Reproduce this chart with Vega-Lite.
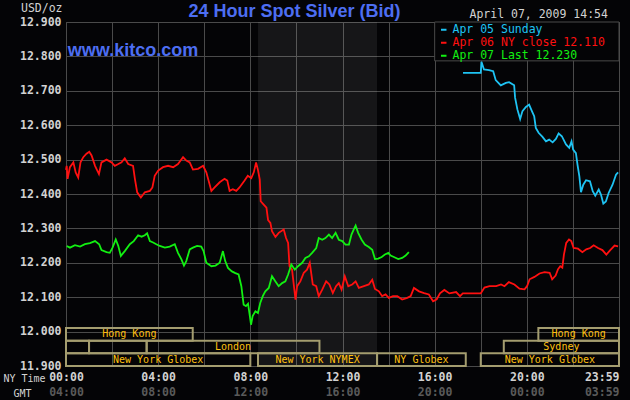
{
  "$schema": "https://vega.github.io/schema/vega-lite/v6.json",
  "width": 553,
  "height": 344,
  "autosize": {"type": "none"},
  "padding": {"left": 66, "top": 22, "right": 11, "bottom": 34},
  "background": "#040406",
  "title": {
    "text": "24 Hour Spot Silver (Bid)",
    "anchor": "middle",
    "dx": -48,
    "offset": -19,
    "font": "Liberation Sans",
    "fontSize": 18,
    "fontWeight": "bold",
    "color": "#4d6ef2"
  },
  "config": {
    "view": {"stroke": "#4a4a4a", "strokeWidth": 1},
    "axis": {
      "labelFont": "DejaVu Sans Mono",
      "labelFontSize": 11.5,
      "labelFontWeight": "bold",
      "labelColor": "#d2d2d2",
      "labelOverlap": false,
      "titleFont": "DejaVu Sans Mono",
      "titleFontSize": 11.5,
      "titleFontWeight": "normal",
      "titleColor": "#d2d2d2",
      "gridColor": "#4a4a4a",
      "gridOpacity": 1,
      "gridWidth": 1,
      "domain": false,
      "ticks": false
    }
  },
  "datasets": {
    "price": [
      {"d": "05", "h": 17.23, "v": 12.752}, {"d": "05", "h": 18.0, "v": 12.752}, {"d": "05", "h": 18.03, "v": 12.784},
      {"d": "05", "h": 18.14, "v": 12.762}, {"d": "05", "h": 18.36, "v": 12.76}, {"d": "05", "h": 18.54, "v": 12.757},
      {"d": "05", "h": 18.65, "v": 12.731}, {"d": "05", "h": 18.87, "v": 12.716}, {"d": "05", "h": 19.09, "v": 12.723},
      {"d": "05", "h": 19.23, "v": 12.725}, {"d": "05", "h": 19.45, "v": 12.716}, {"d": "05", "h": 19.49, "v": 12.68},
      {"d": "05", "h": 19.59, "v": 12.646}, {"d": "05", "h": 19.71, "v": 12.618}, {"d": "05", "h": 19.81, "v": 12.641},
      {"d": "05", "h": 19.96, "v": 12.653}, {"d": "05", "h": 20.1, "v": 12.66}, {"d": "05", "h": 20.22, "v": 12.641},
      {"d": "05", "h": 20.32, "v": 12.626}, {"d": "05", "h": 20.39, "v": 12.592}, {"d": "05", "h": 20.51, "v": 12.578},
      {"d": "05", "h": 20.68, "v": 12.566}, {"d": "05", "h": 20.83, "v": 12.553}, {"d": "05", "h": 20.97, "v": 12.558},
      {"d": "05", "h": 21.12, "v": 12.55}, {"d": "05", "h": 21.26, "v": 12.56}, {"d": "05", "h": 21.38, "v": 12.576},
      {"d": "05", "h": 21.52, "v": 12.568}, {"d": "05", "h": 21.7, "v": 12.544}, {"d": "05", "h": 21.84, "v": 12.534},
      {"d": "05", "h": 21.94, "v": 12.553}, {"d": "05", "h": 22.01, "v": 12.529}, {"d": "05", "h": 22.13, "v": 12.519},
      {"d": "05", "h": 22.2, "v": 12.485}, {"d": "05", "h": 22.28, "v": 12.451}, {"d": "05", "h": 22.35, "v": 12.405},
      {"d": "05", "h": 22.45, "v": 12.427}, {"d": "05", "h": 22.57, "v": 12.44}, {"d": "05", "h": 22.74, "v": 12.437},
      {"d": "05", "h": 22.86, "v": 12.408}, {"d": "05", "h": 22.97, "v": 12.395}, {"d": "05", "h": 23.12, "v": 12.413},
      {"d": "05", "h": 23.22, "v": 12.398}, {"d": "05", "h": 23.32, "v": 12.372}, {"d": "05", "h": 23.43, "v": 12.378},
      {"d": "05", "h": 23.55, "v": 12.403}, {"d": "05", "h": 23.72, "v": 12.427}, {"d": "05", "h": 23.87, "v": 12.456},
      {"d": "05", "h": 23.96, "v": 12.463},

      {"d": "06", "h": 0.0, "v": 12.47}, {"d": "06", "h": 0.03, "v": 12.482}, {"d": "06", "h": 0.07, "v": 12.444},
      {"d": "06", "h": 0.17, "v": 12.478}, {"d": "06", "h": 0.32, "v": 12.492}, {"d": "06", "h": 0.42, "v": 12.463},
      {"d": "06", "h": 0.53, "v": 12.448}, {"d": "06", "h": 0.63, "v": 12.492}, {"d": "06", "h": 0.75, "v": 12.507},
      {"d": "06", "h": 0.89, "v": 12.517}, {"d": "06", "h": 1.01, "v": 12.523}, {"d": "06", "h": 1.11, "v": 12.512},
      {"d": "06", "h": 1.26, "v": 12.482}, {"d": "06", "h": 1.43, "v": 12.458}, {"d": "06", "h": 1.54, "v": 12.492},
      {"d": "06", "h": 1.76, "v": 12.5}, {"d": "06", "h": 1.98, "v": 12.492}, {"d": "06", "h": 2.12, "v": 12.482},
      {"d": "06", "h": 2.27, "v": 12.487}, {"d": "06", "h": 2.41, "v": 12.492}, {"d": "06", "h": 2.55, "v": 12.504},
      {"d": "06", "h": 2.7, "v": 12.487}, {"d": "06", "h": 2.91, "v": 12.482}, {"d": "06", "h": 2.99, "v": 12.444},
      {"d": "06", "h": 3.09, "v": 12.405}, {"d": "06", "h": 3.25, "v": 12.39}, {"d": "06", "h": 3.42, "v": 12.405},
      {"d": "06", "h": 3.64, "v": 12.409}, {"d": "06", "h": 3.75, "v": 12.419}, {"d": "06", "h": 3.85, "v": 12.453},
      {"d": "06", "h": 4.0, "v": 12.468}, {"d": "06", "h": 4.21, "v": 12.478}, {"d": "06", "h": 4.43, "v": 12.482},
      {"d": "06", "h": 4.65, "v": 12.478}, {"d": "06", "h": 4.86, "v": 12.487}, {"d": "06", "h": 5.08, "v": 12.507},
      {"d": "06", "h": 5.22, "v": 12.497}, {"d": "06", "h": 5.37, "v": 12.492}, {"d": "06", "h": 5.51, "v": 12.471},
      {"d": "06", "h": 5.73, "v": 12.473}, {"d": "06", "h": 5.95, "v": 12.482}, {"d": "06", "h": 6.09, "v": 12.463},
      {"d": "06", "h": 6.31, "v": 12.409}, {"d": "06", "h": 6.45, "v": 12.419}, {"d": "06", "h": 6.67, "v": 12.434},
      {"d": "06", "h": 6.88, "v": 12.444}, {"d": "06", "h": 7.0, "v": 12.439}, {"d": "06", "h": 7.1, "v": 12.409},
      {"d": "06", "h": 7.24, "v": 12.414}, {"d": "06", "h": 7.39, "v": 12.409}, {"d": "06", "h": 7.53, "v": 12.419},
      {"d": "06", "h": 7.75, "v": 12.439}, {"d": "06", "h": 7.89, "v": 12.453}, {"d": "06", "h": 8.04, "v": 12.446},
      {"d": "06", "h": 8.15, "v": 12.463}, {"d": "06", "h": 8.25, "v": 12.492}, {"d": "06", "h": 8.33, "v": 12.47},
      {"d": "06", "h": 8.41, "v": 12.442}, {"d": "06", "h": 8.45, "v": 12.379}, {"d": "06", "h": 8.58, "v": 12.369},
      {"d": "06", "h": 8.7, "v": 12.36}, {"d": "06", "h": 8.77, "v": 12.324}, {"d": "06", "h": 8.87, "v": 12.316},
      {"d": "06", "h": 8.94, "v": 12.292}, {"d": "06", "h": 9.09, "v": 12.275}, {"d": "06", "h": 9.23, "v": 12.287},
      {"d": "06", "h": 9.45, "v": 12.297}, {"d": "06", "h": 9.55, "v": 12.272}, {"d": "06", "h": 9.64, "v": 12.258},
      {"d": "06", "h": 9.7, "v": 12.19}, {"d": "06", "h": 9.81, "v": 12.18}, {"d": "06", "h": 9.96, "v": 12.093},
      {"d": "06", "h": 10.03, "v": 12.132}, {"d": "06", "h": 10.17, "v": 12.146}, {"d": "06", "h": 10.32, "v": 12.171},
      {"d": "06", "h": 10.46, "v": 12.18}, {"d": "06", "h": 10.58, "v": 12.2}, {"d": "06", "h": 10.71, "v": 12.137},
      {"d": "06", "h": 10.86, "v": 12.132}, {"d": "06", "h": 10.97, "v": 12.103}, {"d": "06", "h": 11.12, "v": 12.122},
      {"d": "06", "h": 11.29, "v": 12.146}, {"d": "06", "h": 11.43, "v": 12.137}, {"d": "06", "h": 11.58, "v": 12.112},
      {"d": "06", "h": 11.72, "v": 12.132}, {"d": "06", "h": 11.84, "v": 12.141}, {"d": "06", "h": 11.96, "v": 12.122},
      {"d": "06", "h": 12.1, "v": 12.161}, {"d": "06", "h": 12.25, "v": 12.132}, {"d": "06", "h": 12.42, "v": 12.137},
      {"d": "06", "h": 12.57, "v": 12.146}, {"d": "06", "h": 12.71, "v": 12.127}, {"d": "06", "h": 12.93, "v": 12.132},
      {"d": "06", "h": 13.14, "v": 12.137}, {"d": "06", "h": 13.29, "v": 12.151}, {"d": "06", "h": 13.41, "v": 12.124},
      {"d": "06", "h": 13.58, "v": 12.117}, {"d": "06", "h": 13.72, "v": 12.103}, {"d": "06", "h": 13.87, "v": 12.108},
      {"d": "06", "h": 14.01, "v": 12.098}, {"d": "06", "h": 14.19, "v": 12.103}, {"d": "06", "h": 14.38, "v": 12.103},
      {"d": "06", "h": 14.59, "v": 12.093}, {"d": "06", "h": 14.81, "v": 12.098}, {"d": "06", "h": 14.96, "v": 12.103},
      {"d": "06", "h": 15.1, "v": 12.127}, {"d": "06", "h": 15.32, "v": 12.117}, {"d": "06", "h": 15.54, "v": 12.112},
      {"d": "06", "h": 15.75, "v": 12.108}, {"d": "06", "h": 15.93, "v": 12.088}, {"d": "06", "h": 16.09, "v": 12.094},
      {"d": "06", "h": 16.23, "v": 12.111}, {"d": "06", "h": 16.42, "v": 12.121}, {"d": "06", "h": 16.64, "v": 12.111},
      {"d": "06", "h": 16.93, "v": 12.115}, {"d": "06", "h": 17.1, "v": 12.103}, {"d": "06", "h": 17.22, "v": 12.111},
      {"d": "06", "h": 17.65, "v": 12.111}, {"d": "06", "h": 18.0, "v": 12.111}, {"d": "06", "h": 18.16, "v": 12.128},
      {"d": "06", "h": 18.38, "v": 12.132}, {"d": "06", "h": 18.67, "v": 12.132}, {"d": "06", "h": 18.88, "v": 12.137},
      {"d": "06", "h": 19.03, "v": 12.132}, {"d": "06", "h": 19.22, "v": 12.144}, {"d": "06", "h": 19.46, "v": 12.137},
      {"d": "06", "h": 19.68, "v": 12.125}, {"d": "06", "h": 19.9, "v": 12.123}, {"d": "06", "h": 20.01, "v": 12.132},
      {"d": "06", "h": 20.12, "v": 12.152}, {"d": "06", "h": 20.33, "v": 12.159}, {"d": "06", "h": 20.55, "v": 12.169},
      {"d": "06", "h": 20.77, "v": 12.173}, {"d": "06", "h": 20.99, "v": 12.171}, {"d": "06", "h": 21.1, "v": 12.152},
      {"d": "06", "h": 21.25, "v": 12.163}, {"d": "06", "h": 21.35, "v": 12.181}, {"d": "06", "h": 21.45, "v": 12.19},
      {"d": "06", "h": 21.54, "v": 12.186}, {"d": "06", "h": 21.61, "v": 12.224}, {"d": "06", "h": 21.71, "v": 12.258},
      {"d": "06", "h": 21.83, "v": 12.268}, {"d": "06", "h": 21.93, "v": 12.263}, {"d": "06", "h": 22.03, "v": 12.243},
      {"d": "06", "h": 22.22, "v": 12.241}, {"d": "06", "h": 22.41, "v": 12.231}, {"d": "06", "h": 22.58, "v": 12.239},
      {"d": "06", "h": 22.75, "v": 12.243}, {"d": "06", "h": 22.9, "v": 12.251}, {"d": "06", "h": 23.09, "v": 12.243},
      {"d": "06", "h": 23.28, "v": 12.237}, {"d": "06", "h": 23.45, "v": 12.224}, {"d": "06", "h": 23.62, "v": 12.237},
      {"d": "06", "h": 23.81, "v": 12.25}, {"d": "06", "h": 23.96, "v": 12.248},

      {"d": "07", "h": 0.03, "v": 12.249}, {"d": "07", "h": 0.17, "v": 12.244}, {"d": "07", "h": 0.39, "v": 12.251},
      {"d": "07", "h": 0.61, "v": 12.247}, {"d": "07", "h": 0.82, "v": 12.254}, {"d": "07", "h": 1.04, "v": 12.257},
      {"d": "07", "h": 1.26, "v": 12.263}, {"d": "07", "h": 1.44, "v": 12.254}, {"d": "07", "h": 1.54, "v": 12.237},
      {"d": "07", "h": 1.76, "v": 12.231}, {"d": "07", "h": 1.9, "v": 12.229}, {"d": "07", "h": 2.02, "v": 12.244},
      {"d": "07", "h": 2.16, "v": 12.268}, {"d": "07", "h": 2.27, "v": 12.249}, {"d": "07", "h": 2.38, "v": 12.22},
      {"d": "07", "h": 2.55, "v": 12.234}, {"d": "07", "h": 2.77, "v": 12.254}, {"d": "07", "h": 2.94, "v": 12.263},
      {"d": "07", "h": 3.13, "v": 12.28}, {"d": "07", "h": 3.28, "v": 12.276}, {"d": "07", "h": 3.42, "v": 12.28},
      {"d": "07", "h": 3.52, "v": 12.286}, {"d": "07", "h": 3.64, "v": 12.263}, {"d": "07", "h": 3.78, "v": 12.259},
      {"d": "07", "h": 3.92, "v": 12.254}, {"d": "07", "h": 4.07, "v": 12.249}, {"d": "07", "h": 4.29, "v": 12.244},
      {"d": "07", "h": 4.5, "v": 12.247}, {"d": "07", "h": 4.72, "v": 12.254}, {"d": "07", "h": 4.86, "v": 12.229},
      {"d": "07", "h": 5.01, "v": 12.21}, {"d": "07", "h": 5.12, "v": 12.192}, {"d": "07", "h": 5.22, "v": 12.205},
      {"d": "07", "h": 5.37, "v": 12.239}, {"d": "07", "h": 5.51, "v": 12.244}, {"d": "07", "h": 5.69, "v": 12.249},
      {"d": "07", "h": 5.87, "v": 12.247}, {"d": "07", "h": 5.97, "v": 12.234}, {"d": "07", "h": 6.09, "v": 12.2},
      {"d": "07", "h": 6.31, "v": 12.19}, {"d": "07", "h": 6.49, "v": 12.192}, {"d": "07", "h": 6.67, "v": 12.2},
      {"d": "07", "h": 6.81, "v": 12.234}, {"d": "07", "h": 6.91, "v": 12.205}, {"d": "07", "h": 7.03, "v": 12.185},
      {"d": "07", "h": 7.2, "v": 12.175}, {"d": "07", "h": 7.35, "v": 12.17}, {"d": "07", "h": 7.49, "v": 12.166},
      {"d": "07", "h": 7.61, "v": 12.132}, {"d": "07", "h": 7.71, "v": 12.078}, {"d": "07", "h": 7.81, "v": 12.074},
      {"d": "07", "h": 7.9, "v": 12.081}, {"d": "07", "h": 7.96, "v": 12.054}, {"d": "07", "h": 8.03, "v": 12.02},
      {"d": "07", "h": 8.1, "v": 12.045}, {"d": "07", "h": 8.22, "v": 12.059}, {"d": "07", "h": 8.33, "v": 12.054},
      {"d": "07", "h": 8.43, "v": 12.083}, {"d": "07", "h": 8.54, "v": 12.103}, {"d": "07", "h": 8.65, "v": 12.117},
      {"d": "07", "h": 8.8, "v": 12.127}, {"d": "07", "h": 8.94, "v": 12.161}, {"d": "07", "h": 9.09, "v": 12.146},
      {"d": "07", "h": 9.23, "v": 12.132}, {"d": "07", "h": 9.38, "v": 12.141}, {"d": "07", "h": 9.52, "v": 12.146},
      {"d": "07", "h": 9.64, "v": 12.166}, {"d": "07", "h": 9.78, "v": 12.195}, {"d": "07", "h": 9.93, "v": 12.18},
      {"d": "07", "h": 10.07, "v": 12.19}, {"d": "07", "h": 10.25, "v": 12.2}, {"d": "07", "h": 10.39, "v": 12.214},
      {"d": "07", "h": 10.54, "v": 12.219}, {"d": "07", "h": 10.68, "v": 12.229}, {"d": "07", "h": 10.86, "v": 12.243},
      {"d": "07", "h": 10.97, "v": 12.272}, {"d": "07", "h": 11.12, "v": 12.267}, {"d": "07", "h": 11.26, "v": 12.272},
      {"d": "07", "h": 11.41, "v": 12.282}, {"d": "07", "h": 11.55, "v": 12.272}, {"d": "07", "h": 11.7, "v": 12.287},
      {"d": "07", "h": 11.84, "v": 12.267}, {"d": "07", "h": 11.99, "v": 12.263}, {"d": "07", "h": 12.13, "v": 12.253},
      {"d": "07", "h": 12.28, "v": 12.253}, {"d": "07", "h": 12.39, "v": 12.282}, {"d": "07", "h": 12.49, "v": 12.297},
      {"d": "07", "h": 12.57, "v": 12.308}, {"d": "07", "h": 12.68, "v": 12.287}, {"d": "07", "h": 12.83, "v": 12.267},
      {"d": "07", "h": 12.97, "v": 12.253}, {"d": "07", "h": 13.14, "v": 12.246}, {"d": "07", "h": 13.29, "v": 12.238},
      {"d": "07", "h": 13.41, "v": 12.211}, {"d": "07", "h": 13.55, "v": 12.212}, {"d": "07", "h": 13.7, "v": 12.217},
      {"d": "07", "h": 13.84, "v": 12.224}, {"d": "07", "h": 13.99, "v": 12.229}, {"d": "07", "h": 14.09, "v": 12.221},
      {"d": "07", "h": 14.23, "v": 12.217}, {"d": "07", "h": 14.42, "v": 12.211}, {"d": "07", "h": 14.59, "v": 12.214},
      {"d": "07", "h": 14.74, "v": 12.221}, {"d": "07", "h": 14.88, "v": 12.231}
    ],
    "sessions": [
      {"row": "hk", "start": 0, "end": 5.5, "label": "Hong Kong"},
      {"row": "eu", "start": 0, "end": 1, "label": ""},
      {"row": "eu", "start": 1, "end": 3.5, "label": ""},
      {"row": "eu", "start": 3.5, "end": 11, "label": "London"},
      {"row": "us", "start": 0, "end": 8, "label": "New York Globex"},
      {"row": "us", "start": 8.333, "end": 13.5, "label": "New York NYMEX"},
      {"row": "us", "start": 13.5, "end": 17.35, "label": "NY Globex"},
      {"row": "us", "start": 18, "end": 24, "label": "New York Globex"},
      {"row": "eu", "start": 19, "end": 24, "label": "Sydney"},
      {"row": "hk", "start": 20.5, "end": 24, "label": "Hong Kong"}
    ]
  },
  "layer": [
    {
      "layer": [
        {
          "data": {"values": [{"start": 8.333, "end": 13.5}]},
          "mark": {"type": "rect", "fill": "#ffffff", "opacity": 0.075},
          "encoding": {
            "x": {
              "field": "start",
              "type": "quantitative",
              "scale": {"domain": [0, 24], "nice": false, "zero": false},
              "axis": {
                "grid": true,
                "tickCount": 30,
                "values": [0, 2, 4, 6, 8, 10, 12, 14, 16, 18, 20, 22, 24],
                "labelExpr": "datum.value % 4 != 0 ? '' : datum.value == 24 ? '23:59' : (datum.value < 10 ? '0' : '') + datum.value + ':00'",
                "labelAlign": {"condition": {"test": "datum.value == 24", "value": "right"}, "value": "center"},
                "labelFlush": false,
                "labelPadding": 5,
                "title": "NY Time",
                "titleFontSize": 10,
                "titleAngle": 0,
                "titleAlign": "center",
                "titleBaseline": "middle",
                "titleX": -42,
                "titleY": 12
              }
            },
            "x2": {"field": "end"},
            "y": {
              "datum": 12.9,
              "type": "quantitative",
              "scale": {"domain": [11.9, 12.9], "nice": false, "zero": false},
              "axis": {
                "grid": true,
                "tickCount": 30,
                "values": [11.9, 12.0, 12.1, 12.2, 12.3, 12.4, 12.5, 12.6, 12.7, 12.8, 12.9],
                "format": ".3f",
                "labelPadding": 5,
                "labelBaseline": "middle",
                "title": "USD/oz",
                "titleAngle": 0,
                "titleAlign": "right",
                "titleBaseline": "middle",
                "titleX": -4,
                "titleY": -14
              }
            },
            "y2": {"datum": 11.9}
          }
        },
        {
          "data": {"values": [{}]},
          "mark": {"type": "rect", "fill": "#040406", "stroke": "#4a4a4a", "strokeWidth": 1},
          "encoding": {
            "x": {"datum": 16, "type": "quantitative"},
            "x2": {"datum": 24},
            "y": {"datum": 12.9, "type": "quantitative"},
            "y2": {"datum": 12.787}
          }
        },
        {
          "data": {"name": "price"},
          "mark": {"type": "line", "strokeWidth": 1.8},
          "encoding": {
            "x": {"field": "h", "type": "quantitative"},
            "y": {"field": "v", "type": "quantitative"},
            "color": {
              "field": "d",
              "type": "nominal",
              "scale": {"domain": ["05", "06", "07"], "range": ["#1ec3f3", "#ff1010", "#12f012"]},
              "legend": {
                "orient": "none",
                "legendX": 372,
                "legendY": 2,
                "title": null,
                "padding": 0,
                "symbolType": "stroke",
                "symbolSize": 30,
                "symbolStrokeWidth": 2,
                "labelFont": "DejaVu Sans Mono",
                "labelFontSize": 11.5,
                "labelOffset": 3,
                "labelLimit": 0,
                "rowPadding": 0,
                "zindex": 1,
                "labelExpr": "datum.label == '05' ? 'Apr 05 Sunday' : datum.label == '06' ? 'Apr 06 NY close 12.110' : 'Apr 07 Last 12.230'",
                "labelColor": {"expr": "datum.value == '05' ? '#1ec3f3' : datum.value == '06' ? '#ff1010' : '#12f012'"}
              }
            }
          }
        },
        {
          "data": {"values": [{}]},
          "mark": {
            "type": "text",
            "text": "www.kitco.com",
            "align": "left",
            "baseline": "alphabetic",
            "font": "Liberation Sans",
            "fontSize": 18,
            "fontWeight": "bold",
            "fill": "#4d6ef2"
          },
          "encoding": {
            "x": {"datum": 0.08, "type": "quantitative"},
            "y": {"datum": 12.8, "type": "quantitative"}
          }
        },
        {
          "data": {"values": [{}]},
          "mark": {
            "type": "text",
            "text": "April 07, 2009 14:54",
            "align": "right",
            "baseline": "middle",
            "dy": -7,
            "font": "DejaVu Sans Mono",
            "fontSize": 11.5,
            "fill": "#d2d2d2"
          },
          "encoding": {
            "x": {"datum": 23.52, "type": "quantitative"},
            "y": {"datum": 12.9, "type": "quantitative"}
          }
        }
      ]
    },
    {
      "data": {"name": "sessions"},
      "transform": [{"calculate": "(datum.start + datum.end) / 2", "as": "mid"}],
      "layer": [
        {
          "mark": {"type": "rect", "fill": "#000000", "fillOpacity": 0, "stroke": "#a49d6f", "strokeWidth": 2},
          "encoding": {
            "x": {
              "field": "start",
              "type": "quantitative",
              "scale": {"domain": [0, 24], "nice": false, "zero": false},
              "axis": {
                "orient": "bottom",
                "offset": 15,
                "grid": false,
                "tickCount": 30,
                "values": [0, 4, 8, 12, 16, 20, 24],
                "labelExpr": "datum.value == 24 ? '03:59' : ((datum.value + 4) % 24 < 10 ? '0' : '') + ((datum.value + 4) % 24) + ':00'",
                "labelAlign": {"condition": {"test": "datum.value == 24", "value": "right"}, "value": "center"},
                "labelFlush": false,
                "labelPadding": 5,
                "labelColor": "#5a5a5a",
                "title": "GMT",
                "titleFontSize": 10,
                "titleAngle": 0,
                "titleAlign": "center",
                "titleBaseline": "middle",
                "titleX": -44,
                "titleY": 12
              }
            },
            "x2": {"field": "end"},
            "y": {
              "field": "row",
              "type": "nominal",
              "scale": {"type": "band", "domain": ["hk", "eu", "us"], "range": [306, 344], "paddingInner": 0, "paddingOuter": 0},
              "axis": null
            }
          }
        },
        {
          "mark": {"type": "text", "font": "DejaVu Sans Mono", "fontSize": 10, "fill": "#ffc010", "baseline": "middle"},
          "encoding": {
            "x": {"field": "mid", "type": "quantitative"},
            "y": {"field": "row", "type": "nominal"},
            "text": {"field": "label"}
          }
        }
      ]
    }
  ],
  "resolve": {"scale": {"y": "independent"}, "axis": {"x": "independent", "y": "independent"}}
}
